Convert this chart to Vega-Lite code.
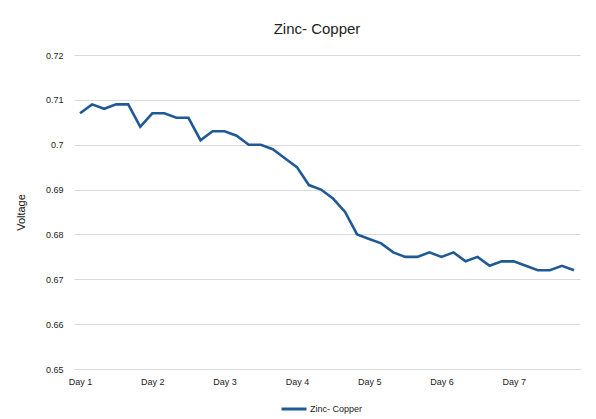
{
  "$schema": "https://vega.github.io/schema/vega-lite/v6.json",
  "width": 506,
  "height": 314,
  "autosize": {"type": "none"},
  "padding": {"left": 74, "top": 55, "right": 16, "bottom": 50},
  "background": "white",
  "title": {"text": "Zinc- Copper", "fontSize": 15, "fontWeight": "normal", "font": "Liberation Sans", "color": "#222222", "offset": 14, "dx": -10},
  "data": {"values": [
    {"i": 0, "v": 0.707, "series": "Zinc- Copper"},
    {"i": 1, "v": 0.709, "series": "Zinc- Copper"},
    {"i": 2, "v": 0.708, "series": "Zinc- Copper"},
    {"i": 3, "v": 0.709, "series": "Zinc- Copper"},
    {"i": 4, "v": 0.709, "series": "Zinc- Copper"},
    {"i": 5, "v": 0.704, "series": "Zinc- Copper"},
    {"i": 6, "v": 0.707, "series": "Zinc- Copper"},
    {"i": 7, "v": 0.707, "series": "Zinc- Copper"},
    {"i": 8, "v": 0.706, "series": "Zinc- Copper"},
    {"i": 9, "v": 0.706, "series": "Zinc- Copper"},
    {"i": 10, "v": 0.701, "series": "Zinc- Copper"},
    {"i": 11, "v": 0.703, "series": "Zinc- Copper"},
    {"i": 12, "v": 0.703, "series": "Zinc- Copper"},
    {"i": 13, "v": 0.702, "series": "Zinc- Copper"},
    {"i": 14, "v": 0.700, "series": "Zinc- Copper"},
    {"i": 15, "v": 0.700, "series": "Zinc- Copper"},
    {"i": 16, "v": 0.699, "series": "Zinc- Copper"},
    {"i": 17, "v": 0.697, "series": "Zinc- Copper"},
    {"i": 18, "v": 0.695, "series": "Zinc- Copper"},
    {"i": 19, "v": 0.691, "series": "Zinc- Copper"},
    {"i": 20, "v": 0.690, "series": "Zinc- Copper"},
    {"i": 21, "v": 0.688, "series": "Zinc- Copper"},
    {"i": 22, "v": 0.685, "series": "Zinc- Copper"},
    {"i": 23, "v": 0.680, "series": "Zinc- Copper"},
    {"i": 24, "v": 0.679, "series": "Zinc- Copper"},
    {"i": 25, "v": 0.678, "series": "Zinc- Copper"},
    {"i": 26, "v": 0.676, "series": "Zinc- Copper"},
    {"i": 27, "v": 0.675, "series": "Zinc- Copper"},
    {"i": 28, "v": 0.675, "series": "Zinc- Copper"},
    {"i": 29, "v": 0.676, "series": "Zinc- Copper"},
    {"i": 30, "v": 0.675, "series": "Zinc- Copper"},
    {"i": 31, "v": 0.676, "series": "Zinc- Copper"},
    {"i": 32, "v": 0.674, "series": "Zinc- Copper"},
    {"i": 33, "v": 0.675, "series": "Zinc- Copper"},
    {"i": 34, "v": 0.673, "series": "Zinc- Copper"},
    {"i": 35, "v": 0.674, "series": "Zinc- Copper"},
    {"i": 36, "v": 0.674, "series": "Zinc- Copper"},
    {"i": 37, "v": 0.673, "series": "Zinc- Copper"},
    {"i": 38, "v": 0.672, "series": "Zinc- Copper"},
    {"i": 39, "v": 0.672, "series": "Zinc- Copper"},
    {"i": 40, "v": 0.673, "series": "Zinc- Copper"},
    {"i": 41, "v": 0.672, "series": "Zinc- Copper"}
  ]},
  "mark": {"type": "line", "strokeWidth": 2.6, "strokeJoin": "miter"},
  "encoding": {
    "x": {
      "field": "i", "type": "ordinal", "sort": null,
      "scale": {"paddingInner": 0, "paddingOuter": 0},
      "axis": {
        "title": null, "labelAngle": 0, "ticks": false, "grid": false,
        "domainColor": "#d9d9d9", "domainWidth": 1,
        "labelExpr": "datum.value % 6 == 0 ? 'Day ' + (datum.value / 6 + 1) : ''",
        "labelFontSize": 9, "labelFont": "Liberation Sans", "labelColor": "#222222",
        "labelPadding": 8, "labelDx": 4, "labelOverlap": false
      }
    },
    "y": {
      "field": "v", "type": "quantitative",
      "scale": {"domain": [0.65, 0.72], "zero": false, "nice": false},
      "axis": {
        "values": [0.65, 0.66, 0.67, 0.68, 0.69, 0.7, 0.71, 0.72],
        "format": "~g",
        "title": "Voltage", "titleFontSize": 11, "titleFont": "Liberation Sans", "titleFontWeight": "normal", "titleColor": "#111111",
        "titlePadding": 19,
        "domain": false, "ticks": false, "gridColor": "#d9d9d9", "gridWidth": 1,
        "labelFontSize": 9, "labelFont": "Liberation Sans", "labelColor": "#222222", "labelPadding": 11
      }
    },
    "color": {
      "field": "series", "type": "nominal",
      "scale": {"range": ["#1f5a96"]},
      "legend": {
        "title": null, "orient": "none", "legendX": 206, "legendY": 340,
        "symbolType": "stroke", "symbolSize": 625, "symbolStrokeWidth": 3,
        "labelFontSize": 9, "labelFont": "Liberation Sans", "labelColor": "#222222", "labelOffset": 2
      }
    }
  },
  "config": {"view": {"stroke": null}}
}
